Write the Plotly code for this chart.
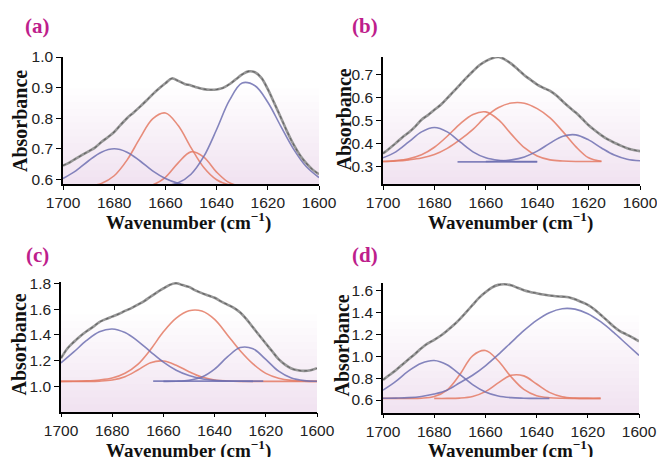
import plotly.graph_objects as go

# ---------------- data ----------------
WN = [1700, 1695, 1690, 1685, 1680, 1675, 1670, 1665, 1660, 1655, 1650,
      1645, 1640, 1635, 1630, 1625, 1620, 1615, 1610, 1605, 1600]
WN_FINE = [1700, 1697.5, 1695, 1692.5, 1690, 1687.5, 1685, 1682.5, 1680, 1677.5,
           1675, 1672.5, 1670, 1667.5, 1665, 1662.5, 1660, 1657.5, 1655, 1652.5,
           1650, 1647.5, 1645, 1642.5, 1640, 1637.5, 1635, 1632.5, 1630, 1627.5,
           1625, 1622.5, 1620, 1617.5, 1615, 1612.5, 1610, 1607.5, 1605, 1602.5, 1600]

# panel (a)
a_spectrum = [0.645, 0.655, 0.668, 0.680, 0.692, 0.704, 0.722, 0.738, 0.755, 0.778,
              0.800, 0.818, 0.837, 0.857, 0.878, 0.897, 0.914, 0.930, 0.922, 0.912,
              0.907, 0.900, 0.895, 0.893, 0.894, 0.899, 0.911, 0.927, 0.943, 0.953,
              0.950, 0.932, 0.895, 0.850, 0.804, 0.757, 0.715, 0.680, 0.653, 0.632, 0.617]
a_blue1 = [0.603, 0.628, 0.661, 0.689, 0.700, 0.689, 0.661, 0.628, 0.603, 0.587, 0.579,
           0.576, 0.575, 0.575, 0.575, 0.575, 0.575, 0.575, 0.575, 0.575, 0.575]
a_red1 = [0.575, 0.576, 0.578, 0.587, 0.612, 0.663, 0.734, 0.798, 0.817, 0.776, 0.704,
          0.639, 0.599, 0.582, 0.577, 0.575, 0.575, 0.575, 0.575, 0.575, 0.575]
a_red2 = [0.575, 0.575, 0.575, 0.575, 0.575, 0.575, 0.576, 0.582, 0.607, 0.654, 0.690,
          0.673, 0.624, 0.589, 0.577, 0.575, 0.575, 0.575, 0.575, 0.575, 0.575]
a_blue2 = [0.575, 0.575, 0.575, 0.575, 0.575, 0.575, 0.575, 0.576, 0.579, 0.589, 0.617,
           0.675, 0.763, 0.858, 0.915, 0.906, 0.852, 0.775, 0.700, 0.642, 0.606]

# panel (b)
b_spectrum = [0.355, 0.377, 0.400, 0.425, 0.446, 0.472, 0.502, 0.522, 0.545, 0.567,
              0.596, 0.625, 0.655, 0.685, 0.713, 0.739, 0.757, 0.770, 0.775, 0.764,
              0.745, 0.721, 0.696, 0.675, 0.655, 0.640, 0.627, 0.607, 0.581, 0.556,
              0.533, 0.506, 0.478, 0.455, 0.434, 0.416, 0.402, 0.389, 0.378, 0.370, 0.365]
b_blue1 = [0.336, 0.362, 0.405, 0.449, 0.468, 0.449, 0.405, 0.362, 0.336, 0.325, 0.321,
           0.320, 0.320, None, None, None, None, None, None, None, None]
b_red1 = [0.320, 0.324, 0.332, 0.349, 0.382, 0.430, 0.484, 0.525, 0.536, 0.501, 0.438,
          0.380, 0.344, 0.327, 0.322, 0.320, 0.320, 0.320, None, None, None]
b_red2 = [0.320, 0.322, 0.327, 0.335, 0.350, 0.377, 0.415, 0.460, 0.515, 0.555, 0.575,
          0.574, 0.550, 0.510, 0.450, 0.385, 0.336, 0.321, None, None, None]
b_blue2 = [None, None, None, None, None, None, None, None, 0.320, 0.322, 0.327,
           0.340, 0.365, 0.400, 0.430, 0.436, 0.414, 0.379, 0.348, 0.330, 0.323]
b_base_x = [1671, 1640]
b_base_y = [0.318, 0.318]

# panel (c)
c_spectrum = [1.220, 1.295, 1.345, 1.390, 1.428, 1.462, 1.500, 1.522, 1.542, 1.562,
              1.586, 1.608, 1.634, 1.662, 1.697, 1.730, 1.760, 1.788, 1.800, 1.786,
              1.772, 1.745, 1.724, 1.706, 1.688, 1.660, 1.635, 1.610, 1.574, 1.520,
              1.458, 1.395, 1.333, 1.273, 1.212, 1.170, 1.140, 1.126, 1.121, 1.126, 1.142]
c_blue1 = [1.183, 1.268, 1.357, 1.424, 1.446, 1.418, 1.352, 1.269, 1.189, 1.126, 1.085,
           1.060, 1.048, 1.043, 1.041, 1.040, None, None, None, None, None]
c_red1 = [1.040, 1.040, 1.040, 1.042, 1.050, 1.076, 1.128, 1.185, 1.198, 1.165, 1.115,
          1.073, 1.051, 1.043, 1.040, 1.040, 1.040, 1.040, 1.040, 1.040, 1.040]
c_red2 = [1.040, 1.041, 1.044, 1.051, 1.066, 1.103, 1.172, 1.287, 1.424, 1.530, 1.587,
          1.585, 1.520, 1.400, 1.277, 1.175, 1.102, 1.065, 1.048, 1.042, 1.040]
c_blue2 = [None, None, None, None, None, None, None, None, 1.040, 1.041, 1.048,
           1.073, 1.135, 1.229, 1.302, 1.293, 1.210, 1.119, 1.066, 1.046, 1.041]
c_base_x = [1664, 1621]
c_base_y = [1.042, 1.042]

# panel (d)
d_spectrum = [0.784, 0.828, 0.872, 0.922, 0.971, 1.020, 1.072, 1.115, 1.148, 1.185,
              1.231, 1.280, 1.337, 1.400, 1.465, 1.530, 1.580, 1.623, 1.648, 1.653,
              1.644, 1.622, 1.600, 1.584, 1.572, 1.560, 1.551, 1.545, 1.541, 1.536,
              1.517, 1.492, 1.466, 1.427, 1.376, 1.325, 1.272, 1.228, 1.198, 1.168, 1.135]
d_blue1 = [0.690, 0.770, 0.865, 0.935, 0.960, 0.921, 0.834, 0.741, 0.674, 0.637, 0.622,
           0.617, 0.615, 0.615, None, None, None, None, None, None, None]
d_blue2 = [0.616, 0.618, 0.622, 0.633, 0.655, 0.690, 0.758, 0.826, 0.912, 1.013, 1.123,
           1.231, 1.325, 1.395, 1.431, 1.427, 1.386, 1.313, 1.218, 1.112, 1.006]
d_red1 = [0.615, 0.615, 0.615, 0.617, 0.632, 0.691, 0.832, 1.003, 1.051, 0.958, 0.812,
          0.697, 0.640, 0.621, 0.616, 0.615, 0.615, 0.615, None, None, None]
d_red2 = [None, None, None, None, 0.615, 0.615, 0.618, 0.633, 0.677, 0.756, 0.825,
          0.820, 0.746, 0.670, 0.630, 0.618, 0.615, 0.615, None, None, None]

PANELS = [
    dict(label="(a)", spectrum=a_spectrum, blues=[a_blue1, a_blue2], reds=[a_red1, a_red2],
         base=None, yrange=[0.585, 1.0], dtick=0.1, tick0=0.6),
    dict(label="(b)", spectrum=b_spectrum, blues=[b_blue1, b_blue2], reds=[b_red1, b_red2],
         base=(b_base_x, b_base_y), yrange=[0.222, 0.775], dtick=0.1, tick0=0.3),
    dict(label="(c)", spectrum=c_spectrum, blues=[c_blue1, c_blue2], reds=[c_red1, c_red2],
         base=(c_base_x, c_base_y), yrange=[0.805, 1.81], dtick=0.2, tick0=1.0),
    dict(label="(d)", spectrum=d_spectrum, blues=[d_blue1, d_blue2], reds=[d_red1, d_red2],
         base=None, yrange=[0.485, 1.665], dtick=0.2, tick0=0.6),
]

# ---------------- layout geometry ----------------
W, H = 657, 457
# plot boxes in pixels: (left, right, top, bottom)
BOXES = [(63, 319, 57, 184), (383, 640, 57, 184), (61, 317, 282, 411.7), (383, 639, 283, 412.7)]
LABEL_POS = [(37, 26), (365, 26), (37, 255), (365, 255)]
YTITLE_POS = [(20, 121), (343.5, 120), (18.5, 345), (341.5, 346)]
XTITLE_POS = [(188, 221), (510, 221), (188, 449), (510, 449)]

BLUE = "rgba(110,112,178,0.85)"
RED = "rgba(228,122,100,0.85)"
GRAY = "rgb(150,150,150)"
DOTS = "rgba(75,75,75,0.65)"
MAGENTA = "#BE1E8C"
SERIF = "Liberation Serif"
SANS = "Liberation Sans"

fig = go.Figure()
layout = dict(width=W, height=H, margin=dict(l=0, r=0, t=0, b=0, autoexpand=False),
              template="none",
              paper_bgcolor="white", plot_bgcolor="white", showlegend=False)
shapes, annotations = [], []

for i, p in enumerate(PANELS):
    n = "" if i == 0 else str(i + 1)
    xa, ya = "x" + n, "y" + n
    l, r, t, b = BOXES[i]
    layout["xaxis" + n] = dict(
        domain=[l / W, r / W], anchor=ya, range=[1700, 1600], dtick=20, tick0=1600,
        automargin=False, ticklabeloverflow="allow",
        showline=True, linecolor="black", linewidth=1.5, ticks="outside", ticklen=4,
        tickwidth=1.2, tickcolor="black", showgrid=False, zeroline=False,
        tickfont=dict(family=SANS, size=15.5, color="#222"))
    layout["yaxis" + n] = dict(
        domain=[1 - b / H, 1 - t / H], anchor=xa, range=p["yrange"], dtick=p["dtick"],
        tick0=p["tick0"], tickformat=".1f", automargin=False, ticklabeloverflow="allow",
        showline=True, linecolor="black", linewidth=1.5, ticks="outside", ticklen=5,
        tickwidth=1.2, tickcolor="black", showgrid=False, zeroline=False,
        tickfont=dict(family=SANS, size=15.5, color="#222"))

    # soft pink gradient background (stacked translucent bands)
    nb = 14
    for k in range(nb):
        shapes.append(dict(type="rect", xref=xa + " domain", yref=ya + " domain",
                           x0=0, x1=1, y0=0, y1=(k + 1) / nb * 0.75,
                           fillcolor="rgba(228,190,215,0.03)", line=dict(width=0),
                           layer="below"))

    for comp in p["reds"]:
        fig.add_trace(go.Scatter(x=WN, y=comp, mode="lines", xaxis=xa, yaxis=ya,
                                 line=dict(color=RED, width=1.6, shape="spline"),
                                 hoverinfo="skip"))
    for comp in p["blues"]:
        fig.add_trace(go.Scatter(x=WN, y=comp, mode="lines", xaxis=xa, yaxis=ya,
                                 line=dict(color=BLUE, width=1.6, shape="spline"),
                                 hoverinfo="skip"))
    if p["base"] is not None:
        bx, by = p["base"]
        fig.add_trace(go.Scatter(x=bx, y=by, mode="lines", xaxis=xa, yaxis=ya,
                                 line=dict(color=BLUE, width=1.8), hoverinfo="skip"))
    fig.add_trace(go.Scatter(x=WN_FINE, y=p["spectrum"], mode="lines", xaxis=xa, yaxis=ya,
                             line=dict(color=GRAY, width=2.6, shape="spline"),
                             hoverinfo="skip"))
    fig.add_trace(go.Scatter(x=WN_FINE, y=p["spectrum"], mode="lines", xaxis=xa, yaxis=ya,
                             line=dict(color=DOTS, width=1.1, dash="dot", shape="spline"),
                             hoverinfo="skip"))

    lx, ly = LABEL_POS[i]
    annotations.append(dict(text="<b>" + p["label"] + "</b>", x=lx / W, y=1 - ly / H,
                            xref="paper", yref="paper", showarrow=False,
                            xanchor="center", yanchor="middle",
                            font=dict(family=SERIF, size=21, color=MAGENTA)))
    yx, yy = YTITLE_POS[i]
    annotations.append(dict(text="<b>Absorbance</b>", x=yx / W, y=1 - yy / H,
                            xref="paper", yref="paper", showarrow=False, textangle=-90,
                            xanchor="center", yanchor="middle",
                            font=dict(family=SERIF, size=20, color="#111")))
    tx, ty = XTITLE_POS[i]
    annotations.append(dict(text="<b>Wavenumber (cm<sup>−1</sup>)</b>", x=tx / W, y=1 - ty / H,
                            xref="paper", yref="paper", showarrow=False,
                            xanchor="center", yanchor="middle",
                            font=dict(family=SERIF, size=19, color="#111")))

layout["shapes"] = shapes
layout["annotations"] = annotations
fig.update_layout(**layout)
fig.write_html("out.html", config={"displayModeBar": False},
               post_script="document.body.style.margin='0';document.body.style.padding='0';"
                           "document.documentElement.style.overflow='hidden';")
